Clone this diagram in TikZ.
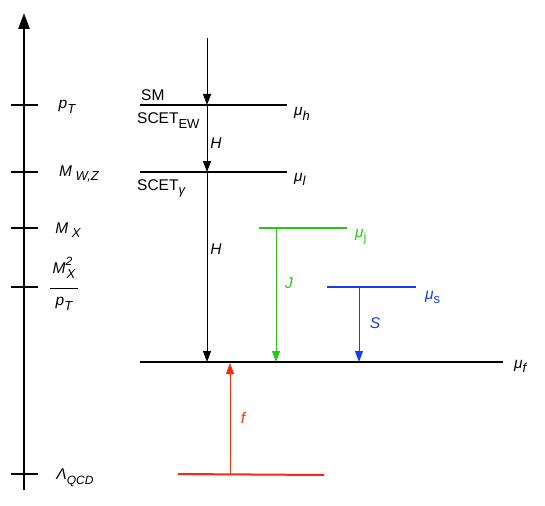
\documentclass[tikz,border=0pt]{standalone}
\usepackage{fontspec}
\setmainfont{Liberation Sans}
\usetikzlibrary{arrows.meta}
\definecolor{gr}{RGB}{40,200,20}
\definecolor{bl}{RGB}{20,60,240}
\definecolor{rd}{RGB}{255,40,10}
\newcommand{\sbs}[1]{\raisebox{-0.55ex}{\fontsize{13}{15}\selectfont #1}}
\tikzset{
  lvl/.style={line width=2pt},
  tick/.style={line width=1.1pt},
  flow/.style={line width=0.9pt,-{Triangle[length=11pt,width=8pt]}},
  lab/.style={font=\fontsize{15.5}{18}\selectfont, inner sep=0pt},
  ax/.style={font=\fontsize{15.5}{18}\selectfont\itshape, inner sep=0pt}
}
\begin{document}
\begin{tikzpicture}[x=1pt,y=-1pt]
\useasboundingbox (0,0) rectangle (545,505);
% axis
\coordinate (ab) at (24,490);
\coordinate (at) at (24,13);
\draw[line width=2.5pt,-{Triangle[length=16pt,width=11pt]}] (ab) -- (at);
\foreach \n/\y in {t1/105,t2/172,t3/228,t4/287,t5/474}{
  \coordinate (\n l) at (11,\y); \coordinate (\n r) at (38,\y);
  \draw[tick] (\n l) -- (\n r);
}
\node[ax] (lpt) at (67,107) {p\sbs{T}};
\node[ax] (lmw) at (79,174) {M\sbs{~W,Z}};
\node[ax] (lmx) at (68,230) {M\sbs{~X}};
\node[ax] (lfr) at (64,284) {\begin{tabular}{@{}c@{}}M\raisebox{1ex}{\fontsize{12}{13}\selectfont 2}\hspace{-0.6em}\raisebox{-0.6ex}{\fontsize{13}{15}\selectfont ~X}\\[-3pt]\rule{28pt}{0.7pt}\\[-1pt]p\sbs{T}\end{tabular}};
\node[ax] (llq) at (75,478) {Λ\raisebox{-0.6ex}{\fontsize{12}{13}\selectfont QCD}};

% levels
\coordinate (h1) at (140,105); \coordinate (h2) at (287,105);
\coordinate (l1) at (140,172); \coordinate (l2) at (287,172);
\coordinate (f1) at (140,362); \coordinate (f2) at (503,362);
\coordinate (j1) at (259,228); \coordinate (j2) at (347,228);
\coordinate (s1) at (327,287); \coordinate (s2) at (416,287);
\coordinate (r1) at (178,474); \coordinate (r2) at (324,475);
\draw[lvl] (h1) -- (h2);
\draw[lvl] (l1) -- (l2);
\draw[lvl] (f1) -- (f2);
\draw[lvl,gr] (j1) -- (j2);
\draw[lvl,bl] (s1) -- (s2);
\draw[lvl,rd] (r1) -- (r2);

% arrows
\coordinate (in) at (207,38);
\coordinate (ha) at (207,105);
\coordinate (hb) at (207,172);
\coordinate (hc) at (207,362);
\draw[flow] (in) -- (ha);
\draw[flow] (ha) -- (hb);
\draw[flow] (hb) -- (hc);
\coordinate (ja) at (276,228); \coordinate (jb) at (276,362);
\draw[flow,gr] (ja) -- (jb);
\coordinate (sa) at (359,287); \coordinate (sb) at (359,362);
\draw[flow,bl] (sa) -- (sb);
\coordinate (ra) at (230,474); \coordinate (rb) at (230,363);
\draw[flow,rd] (ra) -- (rb);

% labels
\node[lab,anchor=base west] (sm) at (141,101) {SM};
\node[lab,anchor=base west] (sew) at (137,124) {SCET\sbs{EW}};
\node[lab,anchor=base west] (sga) at (137,190) {SCET\sbs{\itshape γ}};
\node[ax] (hl1) at (216,143) {H};
\node[ax] (hl2) at (216,249) {H};
\node[ax,gr] (jl) at (289,283) {J};
\node[ax,bl] (sl) at (375,323) {S};
\node[ax,rd] (fl) at (243,418) {f};
\node[ax,anchor=base west] (muh) at (294,116) {μ\sbs{h}};
\node[ax,anchor=base west] (mul) at (294,181) {μ\sbs{l}};
\node[lab,gr,anchor=base west] (muj) at (355,237) {\textit{μ}\sbs{j}};
\node[lab,bl,anchor=base west] (mus) at (425,299) {\textit{μ}\sbs{s}};
\node[ax,anchor=base west] (muf) at (514,368) {μ\sbs{f}};
\end{tikzpicture}
\end{document}
